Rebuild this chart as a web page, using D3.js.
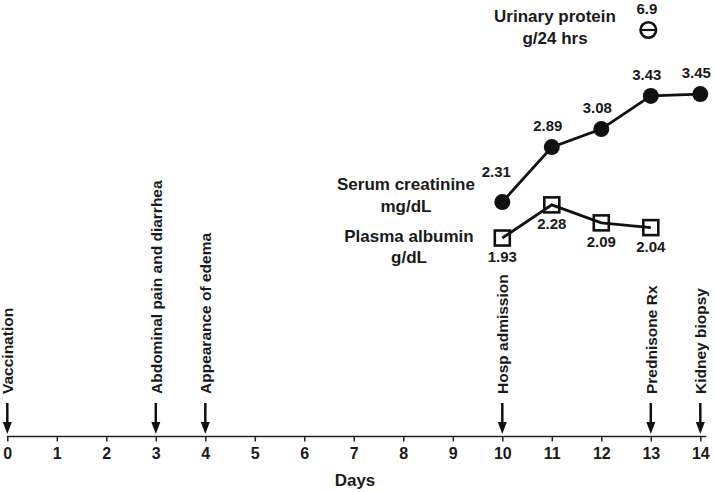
<!DOCTYPE html>
<html>
<head>
<meta charset="utf-8">
<script src="https://cdn.jsdelivr.net/npm/d3@7"></script>
<style>
  body { margin: 0; background: #fff; }
  text { font-family: "Liberation Sans", Arial, sans-serif; font-weight: bold; fill: #1a1a1a; }
</style>
</head>
<body>
<svg id="chart"></svg>
<script>
// data
var dayTicks = [0,1,2,3,4,5,6,7,8,9,10,11,12,13,14];
var eventDays = [0, 3, 4, 10, 13, 14];
var eventLabels = ["Vaccination", "Abdominal pain and diarrhea", "Appearance of edema",
                   "Hosp admission", "Prednisone Rx", "Kidney biopsy"];
var creatDays = [10, 11, 12, 13, 14];
var creatValues = [2.31, 2.89, 3.08, 3.43, 3.45];
var albDays = [10, 11, 12, 13];
var albValues = [1.93, 2.28, 2.09, 2.04];
var protDays = [13];
var protValues = [6.9];

var width = 714, height = 492;
var axisY = 436.5;

var svg = d3.select("#chart")
  .attr("width", width)
  .attr("height", height);

var x = d3.scaleLinear().domain([0, 14]).range([7.3, 700.3]);
// creatinine and albumin share one value scale
var y = d3.scaleLinear().domain([2, 3.5]).range([231.4, 89.3]);
// urinary protein sits in its own band at the top
var yProt = d3.scaleLinear().domain([6, 7]).range([120, 20]);

// X axis
var xAxis = svg.append("g")
  .attr("transform", "translate(0," + axisY + ")")
  .call(d3.axisBottom(x).tickValues(dayTicks).tickSize(5).tickSizeOuter(0).tickPadding(6));
xAxis.select(".domain").remove();
xAxis.selectAll("line").attr("stroke", "#222").attr("stroke-width", 1.5);
xAxis.selectAll("text")
  .style("font-size", "16px")
  .style("font-family", "'Liberation Sans', Arial, sans-serif")
  .style("font-weight", "bold")
  .attr("fill", "#1a1a1a");
xAxis.append("line")
  .attr("x1", x(0) - 0.5).attr("x2", x(14.12))
  .attr("stroke", "#222").attr("stroke-width", 1.5);

svg.append("text")
  .attr("x", 355).attr("y", 486)
  .attr("text-anchor", "middle")
  .style("font-size", "17px")
  .text("Days");

// event arrows + rotated labels
var events = eventDays.map(function(d, i) { return {day: d, label: eventLabels[i]}; });
var ev = svg.selectAll(".event")
  .data(events)
  .enter().append("g")
  .attr("class", "event")
  .attr("transform", function(d) { return "translate(" + x(d.day) + ",0)"; });
ev.append("line")
  .attr("x1", 0).attr("x2", 0)
  .attr("y1", 403).attr("y2", 424)
  .attr("stroke", "#111").attr("stroke-width", 2.5);
ev.append("path")
  .attr("d", "M-4.5,422L4.5,422L0,434Z")
  .attr("fill", "#111");
ev.append("text")
  .attr("transform", "translate(6,394)rotate(-90)")
  .style("font-size", "15.5px")
  .text(function(d) { return d.label; });

// lines
var line = d3.line()
  .x(function(d) { return x(d[0]); })
  .y(function(d) { return y(d[1]); });

var creat = creatDays.map(function(d, i) { return [d, creatValues[i]]; });
var alb = albDays.map(function(d, i) { return [d, albValues[i]]; });

svg.append("path")
  .datum(creat)
  .attr("d", line)
  .attr("fill", "none").attr("stroke", "#111").attr("stroke-width", 2.8);
svg.append("path")
  .datum(alb)
  .attr("d", line)
  .attr("fill", "none").attr("stroke", "#111").attr("stroke-width", 2.8);

// serum creatinine: filled circles
svg.selectAll(".creat")
  .data(creat)
  .enter().append("circle")
  .attr("class", "creat")
  .attr("cx", function(d) { return x(d[0]); })
  .attr("cy", function(d) { return y(d[1]); })
  .attr("r", 8)
  .attr("fill", "#111");
svg.selectAll(".creatLab")
  .data(creat)
  .enter().append("text")
  .attr("class", "creatLab")
  .attr("x", function(d, i) { return x(d[0]) - (i === 0 ? 6 : 4); })
  .attr("y", function(d, i) { return y(d[1]) - (i === 0 ? 25 : 16); })
  .attr("text-anchor", "middle")
  .style("font-size", "15px")
  .text(function(d) { return d[1].toFixed(2); });

// plasma albumin: open squares
var sq = 15;
svg.selectAll(".alb")
  .data(alb)
  .enter().append("rect")
  .attr("class", "alb")
  .attr("x", function(d) { return x(d[0]) - sq / 2; })
  .attr("y", function(d) { return y(d[1]) - sq / 2; })
  .attr("width", sq).attr("height", sq)
  .attr("fill", "none")
  .attr("stroke", "#111").attr("stroke-width", 2.6);
svg.selectAll(".albLab")
  .data(alb)
  .enter().append("text")
  .attr("class", "albLab")
  .attr("x", function(d) { return x(d[0]); })
  .attr("y", function(d) { return y(d[1]) + 24; })
  .attr("text-anchor", "middle")
  .style("font-size", "15px")
  .text(function(d) { return d[1].toFixed(2); });

// urinary protein: circle with bar
var prot = protDays.map(function(d, i) { return [d, protValues[i]]; });
var pg = svg.selectAll(".prot")
  .data(prot)
  .enter().append("g")
  .attr("class", "prot")
  .attr("transform", function(d) { return "translate(" + (x(d[0]) - 2.5) + "," + yProt(d[1]) + ")"; });
pg.append("circle")
  .attr("r", 7.8)
  .attr("fill", "none").attr("stroke", "#111").attr("stroke-width", 2.6);
pg.append("line")
  .attr("x1", -7.8).attr("x2", 7.8)
  .attr("stroke", "#111").attr("stroke-width", 2.2);
pg.append("text")
  .attr("y", -16)
  .attr("x", -1.5)
  .attr("text-anchor", "middle")
  .style("font-size", "15px")
  .text(function(d) { return d[1]; });

// series labels
var labels = [
  {t: "Urinary protein", x: 555, y: 22},
  {t: "g/24 hrs", x: 555, y: 44},
  {t: "Serum creatinine", x: 406, y: 190},
  {t: "mg/dL", x: 406, y: 212},
  {t: "Plasma albumin", x: 409, y: 242},
  {t: "g/dL", x: 409, y: 263}
];
svg.selectAll(".lab")
  .data(labels)
  .enter().append("text")
  .attr("class", "lab")
  .attr("x", function(d) { return d.x; })
  .attr("y", function(d) { return d.y; })
  .attr("text-anchor", "middle")
  .style("font-size", "17px")
  .text(function(d) { return d.t; });
</script>
</body>
</html>
